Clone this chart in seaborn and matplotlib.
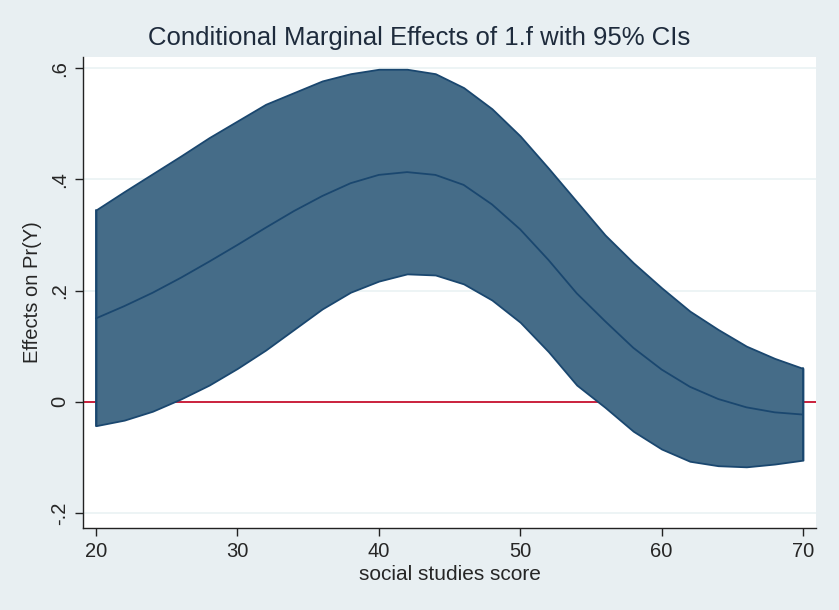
import numpy as np
import pandas as pd
import matplotlib
matplotlib.use('Agg')
import matplotlib.pyplot as plt
import seaborn as sns

# social studies score
socst = [20, 22, 24, 26, 28, 30, 32, 34, 36, 38, 40, 42, 44,
         46, 48, 50, 52, 54, 56, 58, 60, 62, 64, 66, 68, 70]
# marginal effect of 1.f and its 95% CI
effect = [0.150, 0.172, 0.196, 0.223, 0.252, 0.282, 0.313, 0.343, 0.370,
          0.393, 0.408, 0.413, 0.408, 0.390, 0.355, 0.310, 0.255, 0.195,
          0.145, 0.097, 0.058, 0.027, 0.005, -0.010, -0.019, -0.023]
upper = [0.345, 0.378, 0.410, 0.442, 0.475, 0.505, 0.535, 0.556, 0.577,
         0.590, 0.598, 0.598, 0.590, 0.565, 0.527, 0.478, 0.420, 0.360,
         0.300, 0.250, 0.205, 0.163, 0.130, 0.100, 0.078, 0.060]
lower = [-0.043, -0.033, -0.017, 0.005, 0.030, 0.060, 0.093, 0.130, 0.167,
         0.197, 0.217, 0.230, 0.228, 0.212, 0.183, 0.143, 0.090, 0.030,
         -0.010, -0.053, -0.085, -0.107, -0.115, -0.117, -0.112, -0.105]

df = pd.DataFrame({'socst': socst, 'effect': effect, 'upper': upper, 'lower': lower})

bg = '#E8EFF2'
fill = '#456C88'
edge = '#1A476F'

sns.set_style('white')
plt.rcParams['font.family'] = ['Liberation Sans', 'DejaVu Sans']

fig = plt.figure(figsize=(8.39, 6.10), dpi=100, facecolor=bg)
ax = fig.add_axes([83 / 839, 82 / 610, 733 / 839, 471 / 610])
ax.set_facecolor('white')

ax.fill_between(df.socst, df.lower, df.upper, facecolor=fill, edgecolor=edge,
                linewidth=1.3, zorder=2)
ax.plot([df.socst.iloc[0]] * 2, [df.lower.iloc[0], df.upper.iloc[0]], color=edge, lw=1.3, zorder=3)
ax.plot([df.socst.iloc[-1]] * 2, [df.lower.iloc[-1], df.upper.iloc[-1]], color=edge, lw=1.3, zorder=3)
sns.lineplot(data=df, x='socst', y='effect', color=edge, linewidth=1.3, ax=ax, zorder=3)
ax.axhline(0, color='#C8102E', linewidth=1.3, zorder=1)

ax.set_xlim(19.08, 70.92)
ax.set_ylim(-0.227, 0.62)
ax.set_xticks([20, 30, 40, 50, 60, 70])
ax.set_yticks([-0.2, 0, 0.2, 0.4, 0.6])
ax.set_yticklabels(['-.2', '0', '.2', '.4', '.6'], rotation=90, va='center')
ax.grid(axis='y', color='#EAF2F3', linewidth=1.2, zorder=0)
ax.set_axisbelow(True)

for s in ['top', 'right']:
    ax.spines[s].set_visible(False)
for s in ['left', 'bottom']:
    ax.spines[s].set_color('#222222')
    ax.spines[s].set_linewidth(1.0)
ax.tick_params(axis='both', direction='out', length=6, width=1, color='#222222',
               labelsize=14.5, pad=4, bottom=True, left=True)

ax.set_xlabel('social studies score', fontsize=15, labelpad=3)
ax.set_ylabel('Effects on Pr(Y)', fontsize=14.5, labelpad=6)
fig.text(0.5, 1 - 38 / 610, 'Conditional Marginal Effects of 1.f with 95% CIs',
         fontsize=18.5, color='#1E2B3C', ha='center', va='center')

fig.savefig('out.png', dpi=100, facecolor=bg)
